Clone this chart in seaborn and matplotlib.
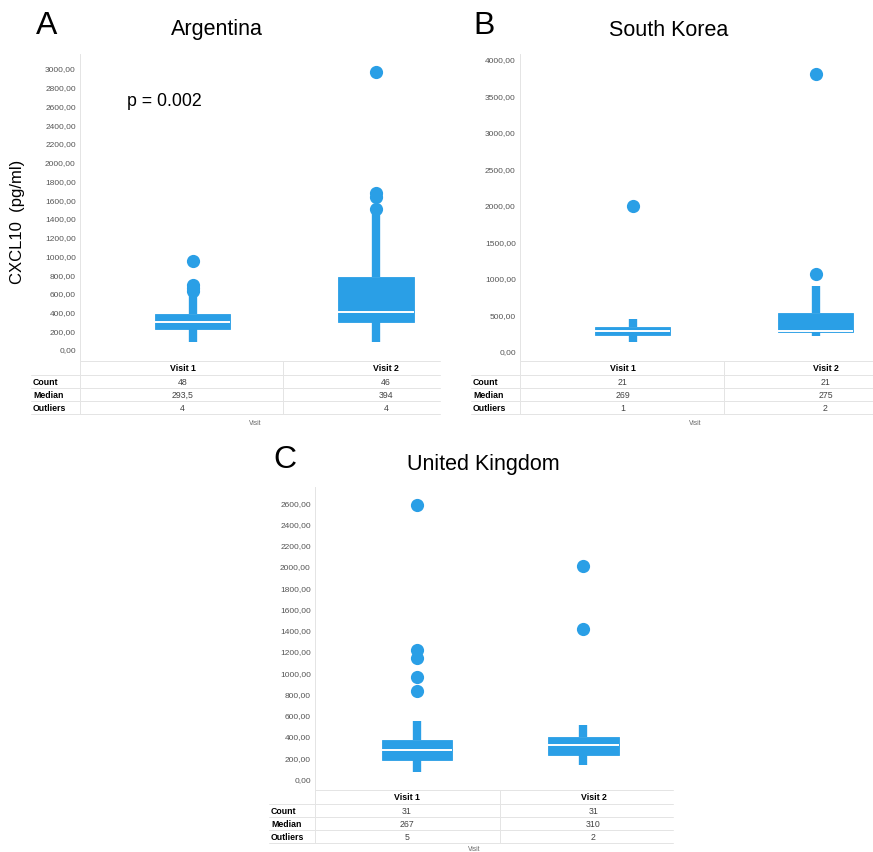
import matplotlib
matplotlib.use("Agg")
import matplotlib.pyplot as plt
import seaborn as sns
import pandas as pd
from matplotlib.lines import Line2D

# ---------------- data ----------------
visits = ["Visit 1", "Visit 2"]
# five-number summaries per visit: lower whisker, Q1, median, Q3, upper whisker
arg_v1 = [72, 217, 293.5, 374, 590]
arg_v2 = [78, 285, 394, 765, 1440]
arg_out_v1 = [620, 650, 680, 936]
arg_out_v2 = [1495, 1620, 1662, 2960]

kor_v1 = [123, 219, 269, 329, 438]
kor_v2 = [205, 262, 275, 520, 890]
kor_out_v1 = [1990]
kor_out_v2 = [1050, 3800]

uk_v1 = [62, 172, 267, 361, 537]
uk_v2 = [125, 222, 310, 392, 502]
uk_out_v1 = [825, 955, 1135, 1210, 2570]
uk_out_v2 = [1403, 2000]

arg_count = ["48", "46"]
arg_median = ["293,5", "394"]
arg_outliers = ["4", "4"]
kor_count = ["21", "21"]
kor_median = ["269", "275"]
kor_outliers = ["1", "2"]
uk_count = ["31", "31"]
uk_median = ["267", "310"]
uk_outliers = ["5", "2"]

arg_ticks = list(range(0, 3001, 200))
kor_ticks = list(range(0, 4001, 500))
uk_ticks = list(range(0, 2601, 200))

# ---------------- style ----------------
W, H = 873, 853
BLUE = "#2A9FE6"
GRID = "#e4e4e4"
sns.set_theme(style="white")
plt.rcParams['font.family'] = ['Liberation Sans', 'DejaVu Sans']
plt.rcParams['text.color'] = 'black'

fig = plt.figure(figsize=(W / 100, H / 100), dpi=100)


def fx(x):
    return x / W


def fy(y):
    return 1 - y / H


def hline(x0, x1, y):
    fig.add_artist(Line2D([fx(x0), fx(x1)], [fy(y), fy(y)], transform=fig.transFigure,
                          color=GRID, lw=0.7))


def vline(x, y0, y1):
    fig.add_artist(Line2D([fx(x), fx(x)], [fy(y0), fy(y1)], transform=fig.transFigure,
                          color=GRID, lw=0.7))


def panel(letter, title, box_stats, outliers, ticks, count, median, nout,
          L, T, R, B, c1, c2, y0px, ytop_px, ytop_val, width,
          letter_xy, title_xy, row_x, sep_x, visit_xy):
    ax = fig.add_axes([fx(L), fy(B), fx(R - L), (B - T) / H])
    df = pd.DataFrame({
        "Visit": [v for v, s in zip(visits, box_stats) for _ in s],
        "value": [x for s in box_stats for x in s],
    })
    odf = pd.DataFrame({
        "Visit": [v for v, s in zip(visits, outliers) for _ in s],
        "value": [x for s in outliers for x in s],
    })
    sns.boxplot(data=df, x="Visit", y="value", order=visits, ax=ax, whis=(0, 100),
                showfliers=False, width=width, color=BLUE, saturation=1, linewidth=0.6,
                boxprops=dict(facecolor=BLUE, edgecolor=BLUE),
                medianprops=dict(color="white", linewidth=1.4),
                whiskerprops=dict(color=BLUE, linewidth=6, solid_capstyle="butt"),
                capprops=dict(linewidth=0))
    sns.stripplot(data=odf, x="Visit", y="value", order=visits, ax=ax, jitter=False,
                  size=9.5, color=BLUE, linewidth=0, zorder=3)
    unit = c2 - c1
    ax.set_xlim((L - c1) / unit, (R - c1) / unit)
    scale = (y0px - ytop_px) / ytop_val
    ax.set_ylim(-(B - y0px) / scale, (y0px - T) / scale)
    ax.set_yticks(ticks)
    ax.set_yticklabels([f"{t:.2f}".replace(".", ",") for t in ticks])
    ax.set_xticks([])
    ax.set_xlabel("")
    ax.set_ylabel("")
    ax.tick_params(axis="y", labelsize=6, labelcolor="#555555", length=0, pad=3)
    for s in ["top", "right", "bottom"]:
        ax.spines[s].set_visible(False)
    ax.spines["left"].set_color(GRID)
    ax.spines["left"].set_linewidth(0.7)
    ax.set_facecolor("white")

    fig.text(fx(letter_xy[0]), fy(letter_xy[1]), letter, fontsize=23, ha="center", va="center")
    fig.text(fx(title_xy[0]), fy(title_xy[1]), title, fontsize=15.5, ha="center", va="center")

    # table under the plot
    hline(L, R, B)
    lines_y = [B + 14, B + 27, B + 40, B + 53]
    for ly in lines_y:
        hline(row_x - 2, R, ly)
    vline(L, B, lines_y[-1])
    vline(sep_x, B, lines_y[-1])
    cx = [c1 - 10, c2 + 10]
    for i, v in enumerate(visits):
        fig.text(fx(cx[i]), fy(B + 7), v, fontsize=6.3, fontweight="bold", ha="center", va="center")
    labels = ["Count", "Median", "Outliers"]
    vals = [count, median, nout]
    for j, (lab, vv) in enumerate(zip(labels, vals)):
        yy = B + 20.5 + 13 * j
        fig.text(fx(row_x), fy(yy), lab, fontsize=6.3, fontweight="bold", ha="left", va="center")
        for i in range(2):
            fig.text(fx(cx[i]), fy(yy), vv[i], fontsize=6.3, color="#444444", ha="center", va="center")
    fig.text(fx(visit_xy[0]), fy(visit_xy[1]), "Visit", fontsize=4.8, color="#666666",
             ha="center", va="center")
    return ax


axA = panel("A", "Argentina", [arg_v1, arg_v2], [arg_out_v1, arg_out_v2], arg_ticks,
            arg_count, arg_median, arg_outliers,
            L=80, T=55, R=440, B=362, c1=192.5, c2=376, y0px=350, ytop_px=69, ytop_val=3000,
            width=0.41, letter_xy=(47, 26), title_xy=(217, 30), row_x=33,
            sep_x=283, visit_xy=(255, 424))
axA.text(0.13, 0.85, "p = 0.002", transform=axA.transAxes, fontsize=12.8, ha="left", va="center")
fig.text(fx(18), fy(222), "CXCL10  (pg/ml)", fontsize=12, rotation=90, ha="center", va="center")

panel("B", "South Korea", [kor_v1, kor_v2], [kor_out_v1, kor_out_v2], kor_ticks,
      kor_count, kor_median, kor_outliers,
      L=520, T=55, R=873, B=362, c1=632.5, c2=815.5, y0px=352, ytop_px=60, ytop_val=4000,
      width=0.41, letter_xy=(484, 26), title_xy=(669, 31), row_x=473,
      sep_x=724, visit_xy=(695, 424))

panel("C", "United Kingdom", [uk_v1, uk_v2], [uk_out_v1, uk_out_v2], uk_ticks,
      uk_count, uk_median, uk_outliers,
      L=315, T=488, R=673, B=791, c1=416.7, c2=583.5, y0px=779.3, ytop_px=503.3, ytop_val=2600,
      width=0.42, letter_xy=(285, 460), title_xy=(483, 465), row_x=271,
      sep_x=500, visit_xy=(474, 850))

fig.savefig("out.png", dpi=100, facecolor="white")
